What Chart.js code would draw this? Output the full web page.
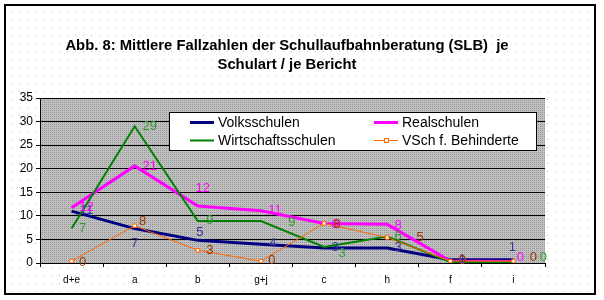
<!DOCTYPE html>
<html>
<head>
<meta charset="utf-8">
<script src="https://cdn.jsdelivr.net/npm/chart.js@4.4.1/dist/chart.umd.min.js"></script>
<style>
  html, body { margin: 0; padding: 0; background: #fff; }
  canvas { display: block; }
</style>
</head>
<body>
<canvas id="chart" width="604" height="300"></canvas>
<script>
// Categories (Schulamtsbezirke) and mean case numbers per school type
const categories = ['d+e', 'a', 'b', 'g+j', 'c', 'h', 'f', 'i'];
const volksschulen       = [11, 7.3, 4.8, 4, 3.2, 3.2, 0.7, 0.7];
const realschulen        = [11.7, 20.6, 12.1, 11.1, 8.4, 8.2, 0.4, 0.3];
const wirtschaftsschulen = [7.3, 29, 8.9, 8.9, 3.4, 5.6, 0.2, 0.1];
const vschBehinderte     = [0.4, 7.9, 2.7, 0.4, 8.4, 5.4, 0.4, 0.4];
const yTickValues = [0, 5, 10, 15, 20, 25, 30, 35];

const titleLines = [
  'Abb. 8: Mittlere Fallzahlen der Schullaufbahnberatung (SLB)  je',
  'Schulart / je Bericht'
];

const FONT = '"Liberation Sans", Arial, Helvetica, sans-serif';

// Hand-placed value label nudges (dx, dy in px from the point), one row per series
const labelNudges = [
  [[15, -1], [0, 15], [2, -8], [12, -1], [11, 0], [11, 0], [12, 0], [-1, -12]],
  [[15, 0], [15, 1], [5, -18], [14, 0], [11, 1], [11, 1], [12, -1], [7, -4]],
  [[11, 0], [15, 0], [12, -1], [31, 1], [18, 6], [11, 0], [12, -2], [30, -5]],
  [[11, 1], [8, -4], [12, 0], [11, -1], [13, 1], [33, 0], [12, -1], [20, -4]]
];

function makePattern(size, bg, dotColor, dots) {
  const c = document.createElement('canvas');
  c.width = size; c.height = size;
  const g = c.getContext('2d');
  if (bg) { g.fillStyle = bg; g.fillRect(0, 0, size, size); }
  g.fillStyle = dotColor;
  dots.forEach(([x, y]) => g.fillRect(x, y, 1, 1));
  return c;
}

const pageTile = makePattern(8, '#ffffff', '#c0c0c0', [[3, 3]]);
const plotTile = makePattern(4, '#c0c0c0', '#969696', [[0, 0], [2, 0], [0, 2], [2, 2]]);

const decor = {
  id: 'decor',
  beforeDraw(chart) {
    const { ctx, chartArea: a } = chart;
    ctx.save();
    ctx.fillStyle = '#ffffff';
    ctx.fillRect(0, 0, chart.width, chart.height);
    ctx.fillStyle = ctx.createPattern(pageTile, 'repeat');
    ctx.fillRect(6, 6, 588, 287);
    ctx.fillStyle = ctx.createPattern(plotTile, 'repeat');
    ctx.fillRect(a.left, a.top, a.right - a.left, a.bottom - a.top);
    ctx.strokeStyle = '#000';
    ctx.lineWidth = 2;
    ctx.strokeRect(5, 5, 590, 289);
    // title
    ctx.fillStyle = '#000';
    ctx.font = 'bold 14.8px ' + FONT;
    ctx.textAlign = 'center';
    ctx.textBaseline = 'middle';
    ctx.fillText(titleLines[0], 287, 46);
    ctx.fillText(titleLines[1], 287, 65);
    ctx.restore();
  },
  afterDatasetsDraw(chart) {
    const { ctx } = chart;
    ctx.save();
    ctx.font = '13px ' + FONT;
    ctx.textAlign = 'center';
    ctx.textBaseline = 'middle';
    chart.data.datasets.forEach((ds, di) => {
      const meta = chart.getDatasetMeta(di);
      ctx.fillStyle = ds.labelColor;
      meta.data.forEach((pt, i) => {
        const [dx, dy] = labelNudges[di][i];
        ctx.fillText(String(Math.round(ds.data[i])), pt.x + dx, pt.y + dy);
      });
    });
    ctx.restore();
  },
  afterDraw(chart) {
    const { ctx } = chart;
    const ds = chart.data.datasets;
    ctx.save();
    ctx.fillStyle = '#fff';
    ctx.fillRect(169, 112, 368, 39);
    ctx.strokeStyle = '#000';
    ctx.lineWidth = 1;
    ctx.strokeRect(169.5, 112.5, 367, 38);
    const slots = [[190, 122], [374, 122], [190, 140], [374, 140]];
    ctx.font = '14px ' + FONT;
    ctx.textBaseline = 'middle';
    ctx.textAlign = 'left';
    ds.forEach((d, i) => {
      const [x, y] = slots[i];
      ctx.strokeStyle = d.borderColor;
      ctx.lineWidth = d.borderWidth;
      ctx.beginPath();
      ctx.moveTo(x, y + 0.5);
      ctx.lineTo(x + 24, y + 0.5);
      ctx.stroke();
      if (d.pointRadius > 0) {
        ctx.fillStyle = '#fff';
        ctx.fillRect(x + 10.5, y - 1.5, 4, 4);
        ctx.strokeStyle = d.pointBorderColor;
        ctx.lineWidth = 1;
        ctx.strokeRect(x + 10.5, y - 1.5, 4, 4);
      }
      ctx.fillStyle = '#000';
      ctx.fillText(d.label, x + 28, y + 1);
    });
    ctx.restore();
  }
};

new Chart(document.getElementById('chart'), {
  type: 'line',
  data: {
    labels: categories,
    datasets: [
      { label: 'Volksschulen', data: volksschulen, borderColor: '#000080', borderWidth: 3,
        pointRadius: 0, labelColor: '#333399', order: 4 },
      { label: 'Realschulen', data: realschulen, borderColor: '#ff00ff', borderWidth: 3,
        pointRadius: 0, labelColor: '#ff00ff', order: 3 },
      { label: 'Wirtschaftsschulen', data: wirtschaftsschulen, borderColor: '#008000', borderWidth: 2,
        pointRadius: 0, labelColor: '#339933', order: 2 },
      { label: 'VSch f. Behinderte', data: vschBehinderte, borderColor: '#ff6600', borderWidth: 1,
        pointStyle: 'rect', pointRadius: 2.5, pointBorderColor: '#ff6600', pointBorderWidth: 1,
        pointBackgroundColor: '#ffffff', labelColor: '#993300', order: 1 }
    ]
  },
  options: {
    responsive: false,
    animation: false,
    devicePixelRatio: 1,
    events: [],
    elements: { line: { tension: 0 } },
    layout: { padding: { top: 98, right: 59, bottom: 0, left: 0 } },
    plugins: { legend: { display: false }, title: { display: false }, tooltip: { enabled: false } },
    scales: {
      x: {
        offset: true,
        grid: { display: true, drawOnChartArea: false, drawTicks: true, tickLength: 4, offset: true, color: '#000' },
        border: { display: true, color: '#000', width: 1 },
        ticks: { color: '#000', font: { family: FONT, size: 10 }, padding: 7, maxRotation: 0 },
        afterFit(s) { s.height = 37; }
      },
      y: {
        min: 0, max: 35,
        afterBuildTicks(s) { s.ticks = yTickValues.map(v => ({ value: v })); },
        grid: { color: '#000', lineWidth: 1, drawTicks: true, tickLength: 4 },
        border: { display: true, color: '#000', width: 1 },
        ticks: { color: '#000', font: { family: FONT, size: 12 }, padding: 3 },
        afterFit(s) { s.width = 40; }
      }
    }
  },
  plugins: [decor]
});
</script>
</body>
</html>
